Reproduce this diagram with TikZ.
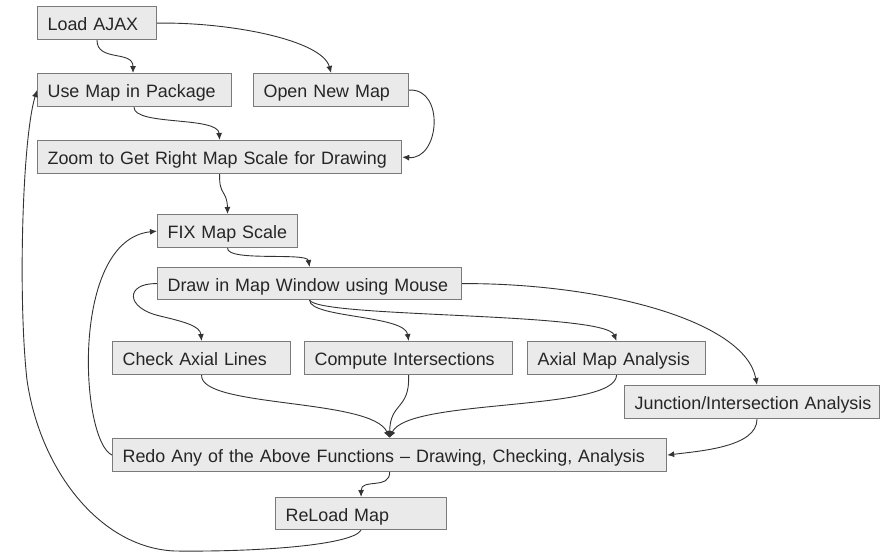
\documentclass[tikz,border=0pt]{standalone}
\usepackage{fontspec}
\setmainfont{Liberation Sans}
\usetikzlibrary{arrows.meta,calc}
\definecolor{boxfill}{HTML}{EAEAEA}
\definecolor{boxline}{HTML}{7A7A7A}
\definecolor{conn}{HTML}{333333}
\tikzset{
  box/.style={draw=boxline, fill=boxfill, line width=1.2pt, minimum height=33pt,
    inner xsep=10pt, inner ysep=0pt, anchor=north west, align=left,
    text height=16pt, text depth=1pt,
    font=\fontsize{17.9}{22}\selectfont, text=black!85},
  conn/.style={draw=conn, line width=0.9pt, -{Latex[length=7pt,width=6pt]}}
}
\begin{document}
\begin{tikzpicture}[x=1pt,y=-1pt]
\useasboundingbox (0,0) rectangle (881,552);
\node[box, text width=99pt]  (load)     at (37,6)   {\mbox{Load AJAX}};
\node[box, text width=174pt] (usemap)   at (37,73)  {\mbox{Use Map in Package}};
\node[box, text width=135pt] (open)     at (253,73) {\mbox{Open New Map}};
\node[box, text width=344pt] (zoom)     at (37,140) {\mbox{Zoom to Get Right Map Scale for Drawing}};
\node[box, text width=120pt] (fix)      at (157,214){\mbox{FIX Map Scale}};
\node[box, text width=284pt, minimum height=32pt] (drawwin)  at (157,267){\mbox{Draw in Map Window using Mouse}};
\node[box, text width=158pt] (check)    at (112,341){\mbox{Check Axial Lines}};
\node[box, text width=188pt] (compute)  at (304,341){\mbox{Compute Intersections}};
\node[box, text width=158pt] (axial)    at (527,341){\mbox{Axial Map Analysis}};
\node[box, text width=235pt] (junction) at (624,385){\mbox{Junction/Intersection Analysis}};
\node[box, text width=534pt] (redo)     at (112,438){\mbox{Redo Any of the Above Functions -- Drawing, Checking, Analysis}};
\node[box, text width=151pt, minimum height=32pt] (reload)   at (275,497){\mbox{ReLoad Map}};

% top part
\draw[conn] ($(load.south west)+(60,0)$) .. controls (97,62) and (133,50) .. ($(usemap.north west)+(96,0)$);
\draw[conn] (load.east) .. controls (230,22) and (322,40) .. (open.north);
\draw[conn] (open.east) .. controls (445,88) and (440,160) .. (zoom.east);
\draw[conn] ($(usemap.south west)+(97,0)$) .. controls (134,126) and (218,116) .. (zoom.north);
\draw[conn] (zoom.south) .. controls (219,196) and (227,190) .. (fix.north);
\draw[conn] (fix.south) .. controls (227,262) and (307,252) .. (drawwin.north);
% fan out
\draw[conn] (drawwin.west) .. controls (125,283) and (125,308) .. (160,316) .. controls (185,322) and (200,326) .. (check.north);
\draw[conn] (drawwin.south) .. controls (310,318) and (405,315) .. (compute.north);
\draw[conn] (drawwin.south) .. controls (320,318) and (605,312) .. (axial.north);
\draw[conn] (drawwin.east) .. controls (600,283) and (745,320) .. ($(junction.north west)+(133,0)$);
% fan in
\draw[conn] (check.south) .. controls (200,408) and (372,398) .. (redo.north);
\draw[conn] (compute.south) .. controls (410,410) and (390,402) .. (redo.north);
\draw[conn] (axial.south) .. controls (615,412) and (408,398) .. (redo.north);
\draw[conn] ($(junction.south west)+(133,0)$) .. controls (757,447) and (700,451) .. (redo.east);
% loops back
\draw[conn] (redo.west) .. controls (80,440) and (70,240) .. (fix.west);
\draw[conn] (redo.south) .. controls (390,490) and (361,478) .. (reload.north);
\draw[conn] (reload.south) .. controls (352,545) and (260,552) .. (175,551)
   .. controls (100,548) and (40,470) .. (27,380)
   .. controls (18,300) and (22,140) .. (usemap.west);
\end{tikzpicture}
\end{document}
